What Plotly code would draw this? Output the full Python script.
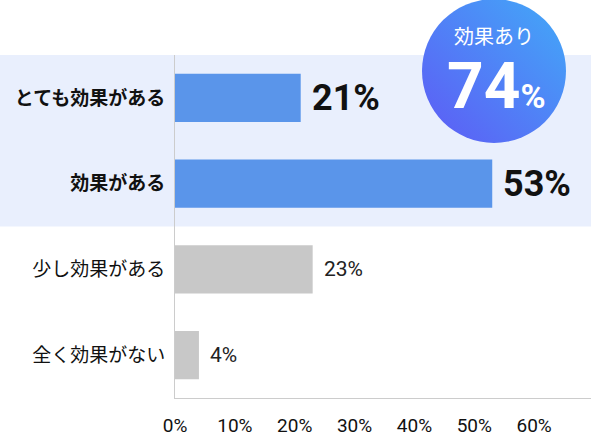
import base64

import plotly.graph_objects as go

# survey answers (top to bottom)
categories = ["とても効果がある", "効果がある", "少し効果がある", "全く効果がない"]
values = [21, 53, 23, 4]
highlighted = [True, True, False, False]

tick_vals = [0, 10, 20, 30, 40, 50, 60]
tick_labels = ["0%", "10%", "20%", "30%", "40%", "50%", "60%"]

summary_label = "効果あり"
summary_value = 74

FONT = "Roboto, 'Noto Sans CJK JP', sans-serif"
BLUE = "#5a95ea"
GRAY = "#c8c8c8"
BAND = "#e9effd"

W, H = 591, 438
M_L, M_R, M_T, M_B = 175, 0, 55, 40
PW, PH = W - M_L - M_R, H - M_T - M_B


def px_to_paper(px, py):
    return (px - M_L) / PW, (H - M_B - py) / PH


bar_colors = [BLUE if h else GRAY for h in highlighted]
ticktext = [f"<b>{c}</b>" if h else c for c, h in zip(categories, highlighted)]

fig = go.Figure()
fig.add_trace(go.Bar(
    x=values, y=categories, orientation="h",
    marker=dict(color=bar_colors, line=dict(width=0)),
    width=0.56, hoverinfo="skip", showlegend=False,
))

# value labels to the right of each bar
for c, v, h in zip(categories, values, highlighted):
    if h:
        txt, size, color = f"<b>{v}%</b>", 36, "#111111"
    else:
        txt, size, color = f"{v}%", 21, "#222222"
    fig.add_annotation(x=v, y=c, xref="x", yref="y", text=txt, showarrow=False,
                       xanchor="left", yanchor="middle", xshift=9,
                       font=dict(family=FONT, size=size, color=color))

# light band behind the "effective" answers
n_hi = sum(highlighted)
fig.add_shape(type="rect", xref="paper", yref="y", x0=-M_L / PW, x1=1,
              y0=-0.5, y1=n_hi - 0.5, fillcolor=BAND, line=dict(width=0), layer="below")

# gradient badge
svg = ('<svg xmlns="http://www.w3.org/2000/svg" width="144" height="144">'
       '<defs><linearGradient id="g" x1="0" y1="1" x2="1" y2="0">'
       '<stop offset="0" stop-color="#5e5af5"/><stop offset="1" stop-color="#42aaf8"/>'
       '</linearGradient></defs><circle cx="72" cy="72" r="72" fill="url(#g)"/></svg>')
src = "data:image/svg+xml;base64," + base64.b64encode(svg.encode()).decode()
bx, by = px_to_paper(422, -1)
fig.add_layout_image(source=src, xref="paper", yref="paper", x=bx, y=by,
                     sizex=144 / PW, sizey=144 / PH, xanchor="left", yanchor="top",
                     sizing="stretch", layer="above")

cx, cy = px_to_paper(494, 37)
fig.add_annotation(xref="paper", yref="paper", x=cx, y=cy, text=summary_label,
                   showarrow=False, xanchor="center", yanchor="middle",
                   font=dict(family=FONT, size=20, color="#ffffff"))
cx, cy = px_to_paper(496, 86)
fig.add_annotation(xref="paper", yref="paper", x=cx, y=cy,
                   text=f"<b>{summary_value}</b><span style='font-size:34px'><b>%</b></span>",
                   showarrow=False, xanchor="center", yanchor="middle",
                   font=dict(family=FONT, size=64, color="#ffffff"))

fig.update_layout(
    width=W, height=H,
    margin=dict(l=M_L, r=M_R, t=M_T, b=M_B),
    paper_bgcolor="white", plot_bgcolor="rgba(0,0,0,0)",
    font=dict(family=FONT),
    xaxis=dict(range=[0, 69.5], tickvals=tick_vals, ticktext=tick_labels,
               showgrid=False, zeroline=False, showline=True, linecolor="#cccccc",
               linewidth=1, ticks="outside", ticklen=10, tickcolor="rgba(0,0,0,0)",
               tickfont=dict(family=FONT, size=19, color="#111111"),
               automargin=False),
    yaxis=dict(categoryorder="array", categoryarray=categories, autorange="reversed",
               tickvals=categories, ticktext=ticktext,
               showgrid=False, zeroline=False, showline=True, linecolor="#cccccc",
               linewidth=1, ticks="outside", ticklen=5, tickcolor="rgba(0,0,0,0)",
               tickfont=dict(family=FONT, size=19, color="#111111"), automargin=False),
)

# drop the default page margin so the figure sits at the window's corner
fig.write_html("out.html", config={"displayModeBar": False},
               post_script="document.body.style.margin='0';")
